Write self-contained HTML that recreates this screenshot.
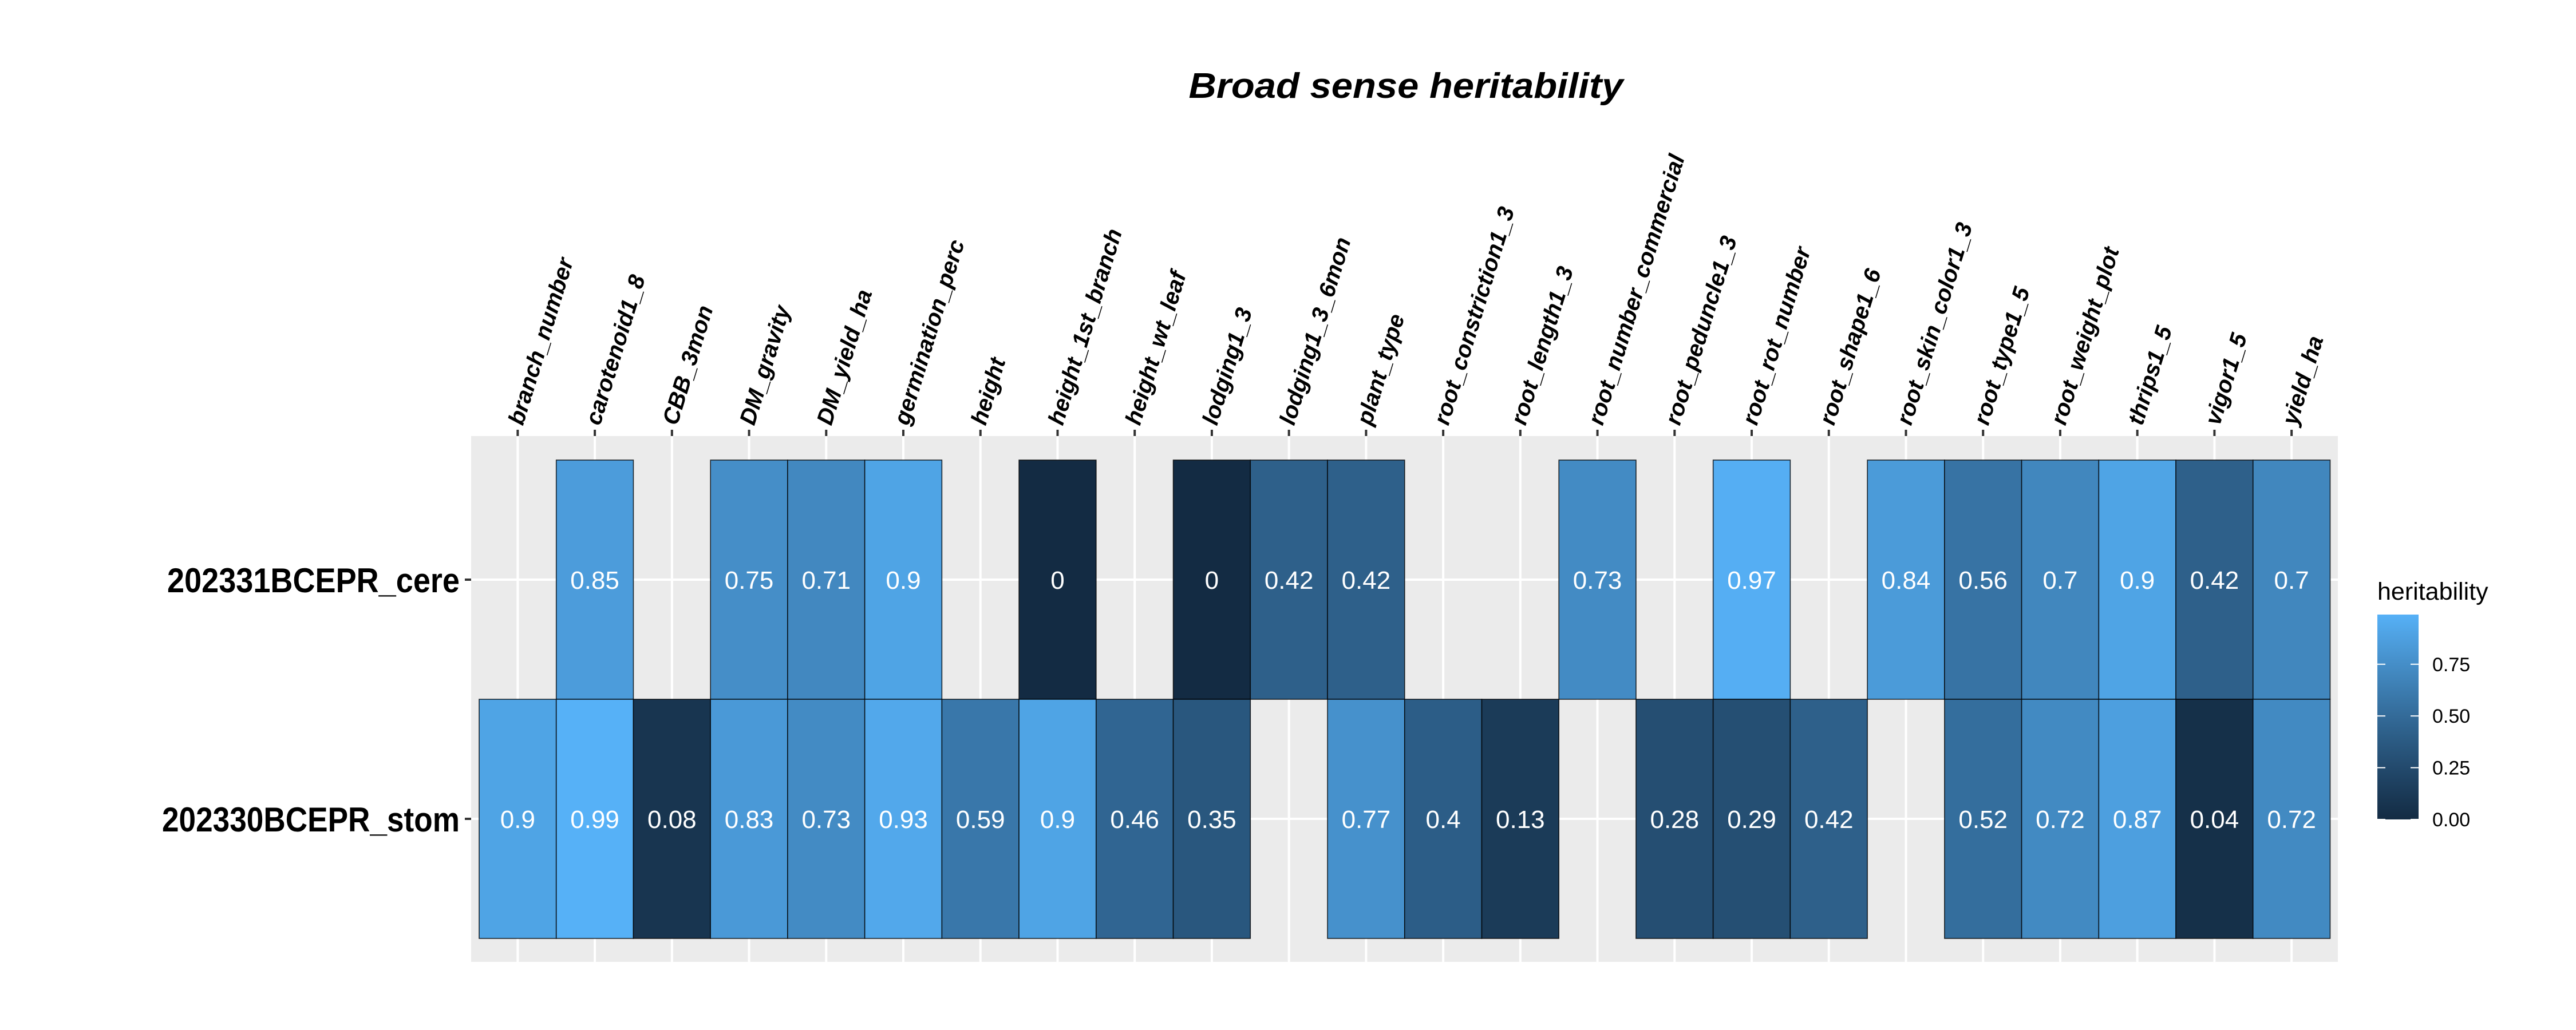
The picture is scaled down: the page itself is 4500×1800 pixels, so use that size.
<!DOCTYPE html>
<html><head><meta charset="utf-8"><style>
html,body{margin:0;padding:0;background:#fff;}
svg{display:block;font-family:"Liberation Sans",Arial,sans-serif;}
</style></head><body>
<svg id="chart" width="4500" height="1800" viewBox="0 0 4500 1800" xmlns="http://www.w3.org/2000/svg">
<rect width="4500" height="1800" fill="#fff"/>
<text x="2456" y="171" text-anchor="middle" font-size="62" font-weight="bold" font-style="italic" textLength="759" lengthAdjust="spacingAndGlyphs">Broad sense heritability</text>
<g id="panel"></g>
<g id="xaxis"></g>
<g id="yaxis"></g>
<g id="tiles"></g>
<g id="legend"></g>
</svg>
<script>
const traits = ["branch_number","carotenoid1_8","CBB_3mon","DM_gravity","DM_yield_ha","germination_perc","height","height_1st_branch","height_wt_leaf","lodging1_3","lodging1_3_6mon","plant_type","root_constriction1_3","root_length1_3","root_number_commercial","root_peduncle1_3","root_rot_number","root_shape1_6","root_skin_color1_3","root_type1_5","root_weight_plot","thrips1_5","vigor1_5","yield_ha"];
const trials = ["202331BCEPR_cere","202330BCEPR_stom"];
const ceresValues = [null,0.85,null,0.75,0.71,0.9,null,0,null,0,0.42,0.42,null,null,0.73,null,0.97,null,0.84,0.56,0.7,0.9,0.42,0.7];
const stomValues = [0.9,0.99,0.08,0.83,0.73,0.93,0.59,0.9,0.46,0.35,null,0.77,0.4,0.13,null,0.28,0.29,0.42,null,0.52,0.72,0.87,0.04,0.72];
const legendTicks = [0,0.25,0.5,0.75];
const legendTickLabels = ["0.00","0.25","0.50","0.75"];

const NS="http://www.w3.org/2000/svg";
function mk(tag,attrs,parent){const e=document.createElementNS(NS,tag);for(const k in attrs)e.setAttribute(k,attrs[k]);parent.appendChild(e);return e;}
const P={l:823,r:4084,t:762,b:1681};
const X0=837, CW=(4070.5-837)/traits.length;
const Y0=804, RH=418;
const xC=i=>X0+CW*(i+0.5);
const yC=j=>Y0+RH*(j+0.5);
const allVals=ceresValues.concat(stomValues).filter(v=>v!==null);
const vmin=0, vmax=Math.max(...allVals);

function s2l(c){c/=255;return c<=0.04045?c/12.92:Math.pow((c+0.055)/1.055,2.4);}
function l2s(c){c=c<=0.0031308?12.92*c:1.055*Math.pow(c,1/2.4)-0.055;return Math.round(Math.max(0,Math.min(1,c))*255);}
function toLab(h){const r=s2l(parseInt(h.substr(1,2),16)),g=s2l(parseInt(h.substr(3,2),16)),b=s2l(parseInt(h.substr(5,2),16));
let x=(r*0.4124+g*0.3576+b*0.1805)/0.95047,y=r*0.2126+g*0.7152+b*0.0722,z=(r*0.0193+g*0.1192+b*0.9505)/1.08883;
const f=t=>t>0.008856?Math.cbrt(t):7.787*t+16/116;x=f(x);y=f(y);z=f(z);return[116*y-16,500*(x-y),200*(y-z)];}
function fromLab(L,a,bb){let y=(L+16)/116,x=a/500+y,z=y-bb/200;const fi=t=>t*t*t>0.008856?t*t*t:(t-16/116)/7.787;
x=fi(x)*0.95047;y=fi(y);z=fi(z)*1.08883;
const r=x*3.2406+y*-1.5372+z*-0.4986,g=x*-0.9689+y*1.8758+z*0.0415,b=x*0.0557+y*-0.2040+z*1.0570;
return "rgb("+l2s(r)+","+l2s(g)+","+l2s(b)+")";}
const LA=toLab("#132B43"),LB=toLab("#56B1F7");
function color(v){const t=(v-vmin)/(vmax-vmin);return fromLab(LA[0]+(LB[0]-LA[0])*t,LA[1]+(LB[1]-LA[1])*t,LA[2]+(LB[2]-LA[2])*t);}

const panel=document.getElementById('panel');
const bg=mk('rect',{x:P.l,y:P.t,width:P.r-P.l,height:P.b-P.t,fill:'#EBEBEB'},panel);


traits.forEach((t,i)=>{const g=mk('line',{x1:xC(i),x2:xC(i),y1:P.t,y2:P.b,stroke:'#fff','stroke-width':4},panel);

});
trials.forEach((t,j)=>{const g=mk('line',{x1:P.l,x2:P.r,y1:yC(j),y2:yC(j),stroke:'#fff','stroke-width':4},panel);

});

const xaxis=document.getElementById('xaxis');
traits.forEach((t,i)=>{const x=xC(i);
const tk=mk('line',{x1:x,x2:x,y1:P.t-11,y2:P.t,stroke:'#333','stroke-width':4},xaxis);


const tx=mk('text',{x:0,y:0,transform:`translate(${x+9},745) rotate(-73)`,'font-size':40,'font-weight':'bold','font-style':'italic',fill:'#000'},xaxis);
tx.textContent=t;

});

const yaxis=document.getElementById('yaxis');
const yLens=[511,520];
trials.forEach((t,j)=>{const y=yC(j);
const tk=mk('line',{x1:P.l-11,x2:P.l,y1:y,y2:y,stroke:'#333','stroke-width':4},yaxis);


const tx=mk('text',{x:803-yLens[j],y:y+22,'font-size':60,'font-weight':'bold',fill:'#000',textLength:yLens[j],lengthAdjust:'spacingAndGlyphs'},yaxis);
tx.textContent=t;

});

const tiles=document.getElementById('tiles');
[ceresValues,stomValues].forEach((vals,j)=>{vals.forEach((v,i)=>{if(v===null)return;
const r=mk('rect',{x:X0+CW*i,y:Y0+RH*j,width:CW,height:RH,fill:color(v),stroke:'#000','stroke-opacity':0.8,'stroke-width':1.6},tiles);


const tx=mk('text',{x:xC(i),y:yC(j)+16,'text-anchor':'middle','font-size':44,fill:'#fff'},tiles);
tx.textContent=String(v);

});});

const leg=document.getElementById('legend');
const LX=4153,LW=72,LT=1074,LBt=1432;
const defs=mk('defs',{},leg);
const grad=mk('linearGradient',{id:'lg',x1:0,y1:1,x2:0,y2:0},defs);
for(let k=0;k<=10;k++){mk('stop',{offset:k/10,'stop-color':color(vmin+(vmax-vmin)*k/10)},grad);}
const lt=mk('text',{x:LX,y:1048,'font-size':43,fill:'#000'},leg);
lt.textContent='heritability';


const bar=mk('rect',{x:LX,y:LT,width:LW,height:LBt-LT,fill:'url(#lg)'},leg);


const ly=v=>LBt-(v-vmin)/(vmax-vmin)*(LBt-LT);
legendTicks.forEach((v,k)=>{const y=ly(v);
const a=mk('line',{x1:LX,x2:LX+14,y1:y,y2:y,stroke:'#fff','stroke-width':2},leg);


const b=mk('line',{x1:LX+LW-14,x2:LX+LW,y1:y,y2:y,stroke:'#fff','stroke-width':2},leg);


const tx=mk('text',{x:4249,y:y+12,'font-size':34,fill:'#000'},leg);
tx.textContent=legendTickLabels[k];

});
</script>
</body></html>
